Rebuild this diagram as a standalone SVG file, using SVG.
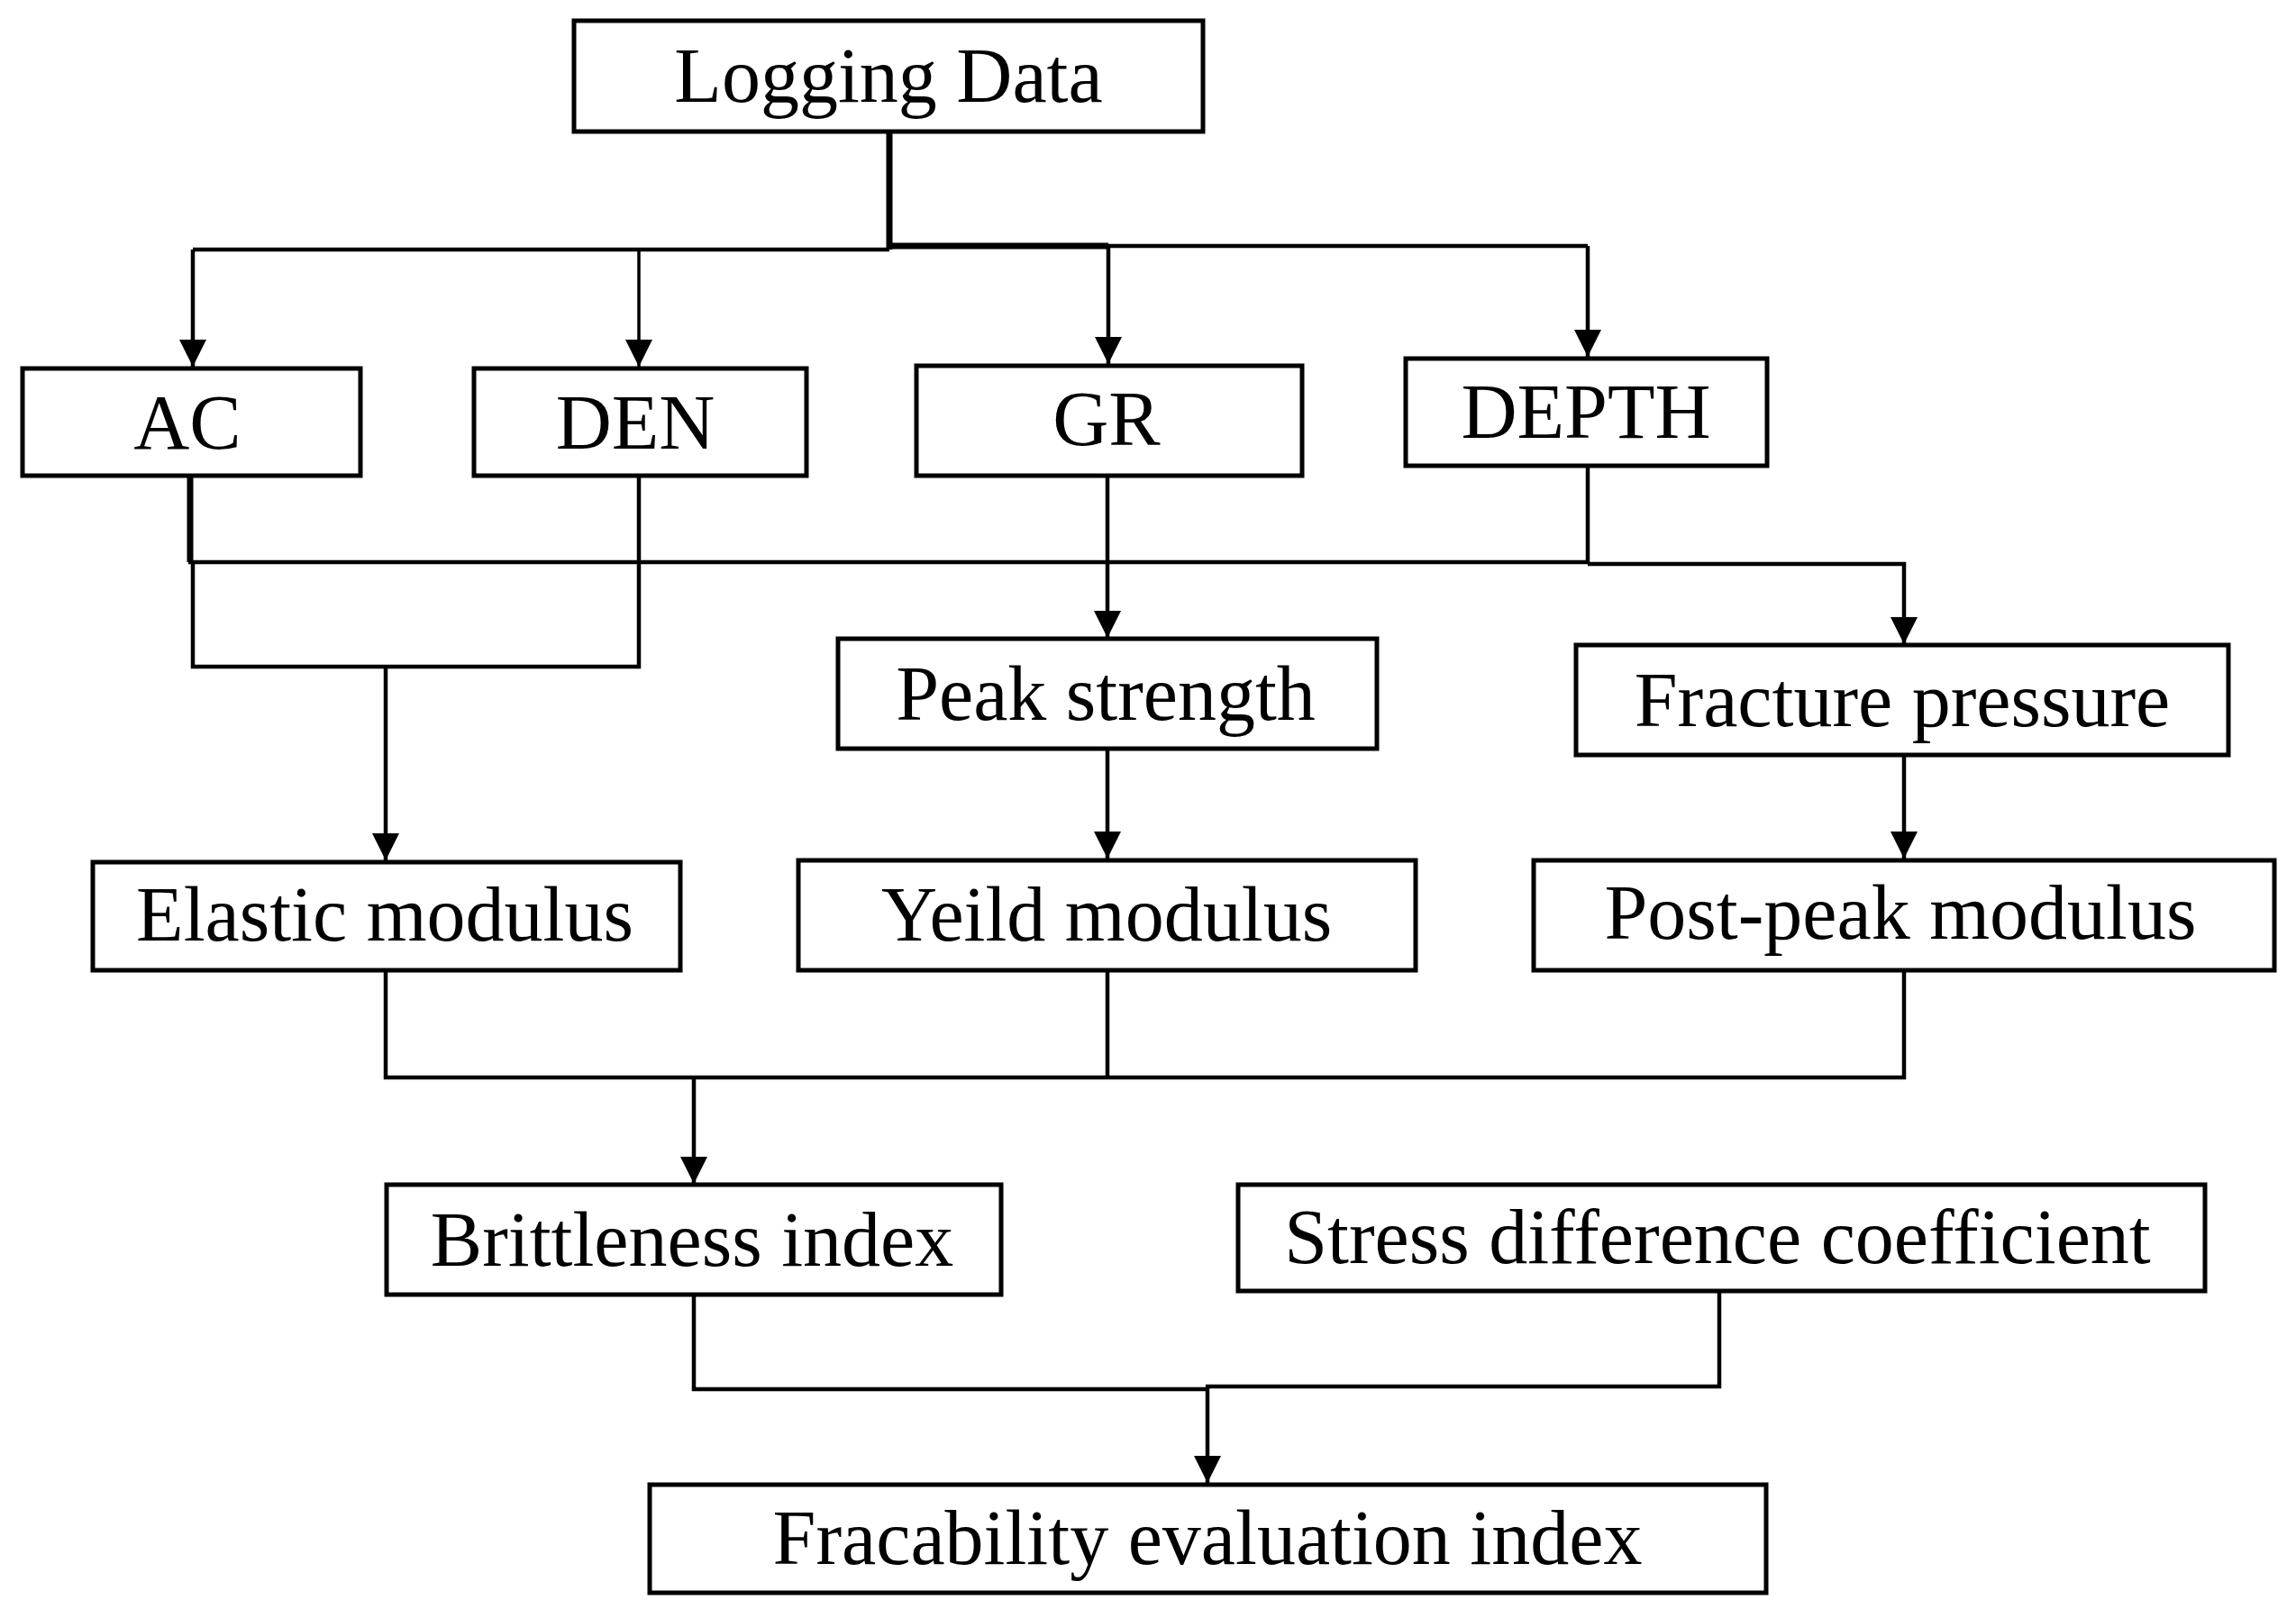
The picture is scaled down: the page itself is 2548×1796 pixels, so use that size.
<svg xmlns="http://www.w3.org/2000/svg" width="2548" height="1796" viewBox="0 0 2548 1796">
<style>
.box{fill:#fff;stroke:#000;stroke-width:5}
.lbl{font-family:"Liberation Serif","Times New Roman",serif;font-size:86px;fill:#000;text-anchor:middle}
.ln{fill:none;stroke:#000;stroke-width:4.5}
.thin{fill:none;stroke:#000;stroke-width:3.5}
.thick{fill:none;stroke:#000;stroke-width:7}
</style>
<defs>
<marker id="ah" markerUnits="userSpaceOnUse" markerWidth="30" markerHeight="30" refX="30" refY="15" orient="auto" viewBox="0 0 30 30">
<path d="M0,0 L30,15 L0,30 z" fill="#000"/>
</marker>
</defs>
<rect width="2548" height="1796" fill="#fff"/>
<g id="connectors">
<!-- Logging Data to row 2 -->
<line class="thick" x1="987" y1="146" x2="987" y2="277"/>
<polyline class="ln" points="987,277 214,277"/>
<line class="ln" x1="214" y1="277" x2="214" y2="407" marker-end="url(#ah)"/>
<line class="thin" x1="709" y1="277" x2="709" y2="407" marker-end="url(#ah)"/>
<line class="thick" x1="984" y1="273" x2="1230" y2="273"/>
<line class="ln" x1="1228" y1="273" x2="1762" y2="273"/>
<line class="ln" x1="1230" y1="273" x2="1230" y2="404" marker-end="url(#ah)"/>
<line class="ln" x1="1762" y1="273" x2="1762" y2="396" marker-end="url(#ah)"/>
<!-- row 2 to row 3 -->
<line class="thick" x1="211" y1="528" x2="211" y2="624"/>
<line class="ln" x1="209" y1="624" x2="1762" y2="624"/>
<line class="ln" x1="1762" y1="517" x2="1762" y2="626"/>
<polyline class="ln" points="1762,626 2113,626 2113,715" marker-end="url(#ah)"/>
<line class="ln" x1="1229" y1="528" x2="1229" y2="708" marker-end="url(#ah)"/>
<polyline class="ln" points="214,624 214,740 709,740 709,528"/>
<line class="ln" x1="428" y1="740" x2="428" y2="955" marker-end="url(#ah)"/>
<!-- row 3 to row 4 -->
<line class="ln" x1="1229" y1="831" x2="1229" y2="953" marker-end="url(#ah)"/>
<line class="ln" x1="2113" y1="839" x2="2113" y2="953" marker-end="url(#ah)"/>
<!-- row 4 to Brittleness -->
<polyline class="ln" points="428,1077 428,1196 2113,1196 2113,1077"/>
<line class="ln" x1="1229" y1="1077" x2="1229" y2="1196"/>
<line class="ln" x1="770" y1="1196" x2="770" y2="1314" marker-end="url(#ah)"/>
<!-- row 5 to Fracability -->
<polyline class="ln" points="770,1438 770,1542 1340,1542"/>
<polyline class="ln" points="1908,1433 1908,1539 1338,1539"/>
<line class="ln" x1="1340" y1="1539" x2="1340" y2="1646" marker-end="url(#ah)"/>
</g>
<g id="logging-data">
<rect class="box" x="637" y="23" width="698" height="123"/>
<text class="lbl" x="986" y="113">Logging Data</text>
</g>
<g id="ac">
<rect class="box" x="25" y="409" width="375" height="119"/>
<text class="lbl" x="208" y="498">AC</text>
</g>
<g id="den">
<rect class="box" x="526" y="409" width="369" height="119"/>
<text class="lbl" x="705" y="498">DEN</text>
</g>
<g id="gr">
<rect class="box" x="1017" y="406" width="428" height="122"/>
<text class="lbl" x="1228" y="494">GR</text>
</g>
<g id="depth">
<rect class="box" x="1560" y="398" width="401" height="119"/>
<text class="lbl" x="1760" y="486">DEPTH</text>
</g>
<g id="peak-strength">
<rect class="box" x="930" y="709" width="598" height="122"/>
<text class="lbl" x="1227" y="799">Peak strength</text>
</g>
<g id="fracture-pressure">
<rect class="box" x="1749" y="716" width="724" height="122"/>
<text class="lbl" x="2111" y="806">Fracture pressure</text>
</g>
<g id="elastic-modulus">
<rect class="box" x="103" y="957" width="652" height="120"/>
<text class="lbl" x="427" y="1044">Elastic modulus</text>
</g>
<g id="yeild-modulus">
<rect class="box" x="886" y="955" width="685" height="122"/>
<text class="lbl" x="1228" y="1044">Yeild modulus</text>
</g>
<g id="post-peak-modulus">
<rect class="box" x="1702" y="955" width="822" height="122"/>
<text class="lbl" x="2109" y="1042">Post-peak modulus</text>
</g>
<g id="brittleness-index">
<rect class="box" x="429" y="1315" width="682" height="122"/>
<text class="lbl" x="768" y="1405">Brittleness index</text>
</g>
<g id="stress-difference-coefficient">
<rect class="box" x="1374" y="1315" width="1073" height="118"/>
<text class="lbl" x="1906" y="1402">Stress difference coefficient</text>
</g>
<g id="fracability-evaluation-index">
<rect class="box" x="721" y="1648" width="1239" height="120"/>
<text class="lbl" x="1340" y="1736">Fracability evaluation index</text>
</g>
</svg>
